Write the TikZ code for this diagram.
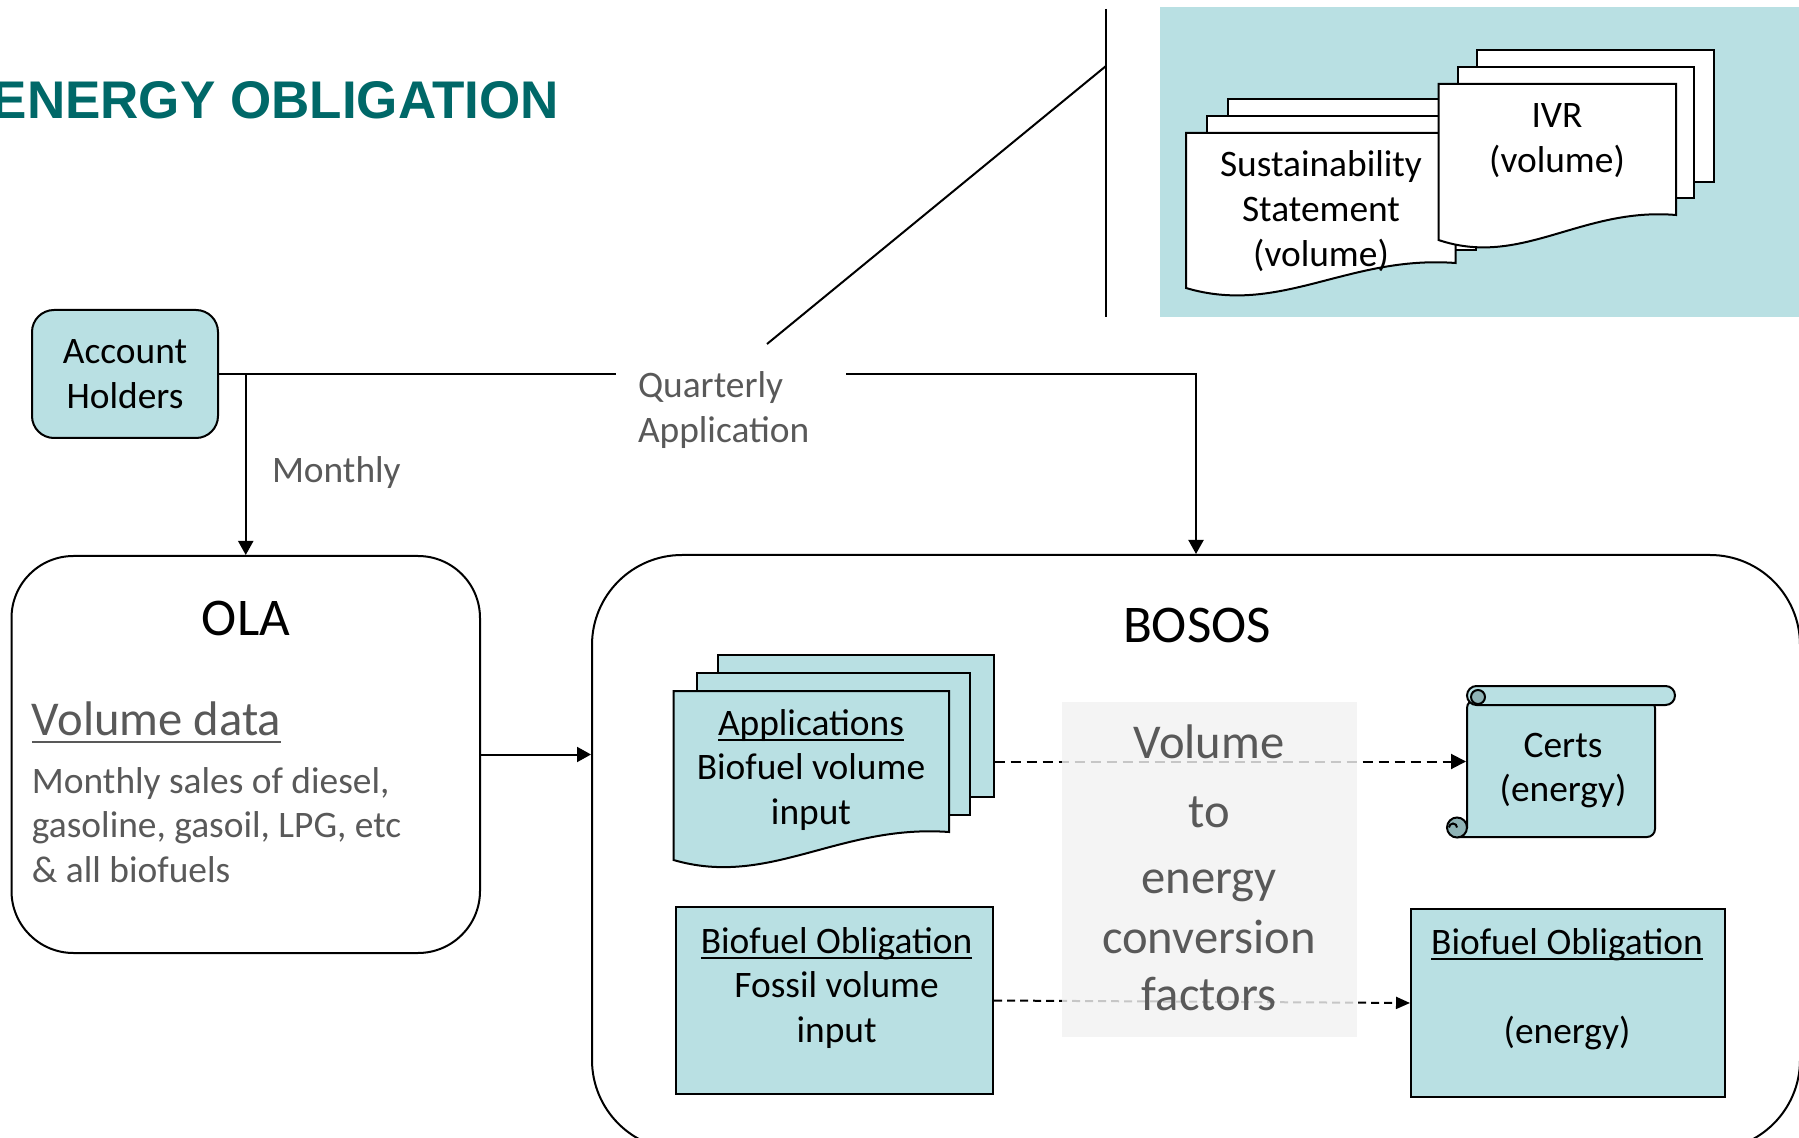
\documentclass[tikz,border=0pt]{standalone}
\usepackage{fontspec}
\setmainfont{Carlito}
\newfontfamily\titlefont{Liberation Sans}
\usetikzlibrary{arrows.meta,calc}
\definecolor{tealc}{HTML}{B9E0E3}
\definecolor{tealdark}{HTML}{8FB3B6}
\definecolor{titlec}{HTML}{006868}
\definecolor{grayt}{HTML}{595959}
\definecolor{convc}{HTML}{F2F2F2}
\newcommand\ulx[1]{\leavevmode\setbox0\hbox{#1}\rlap{\rule[-0.17em]{\wd0}{0.055em}}\box0}
\newcommand\fnorm{\fontsize{18.7}{22.3}\selectfont}
\newcommand\fhead{\fontsize{26.5}{32}\selectfont}
\newcommand\fmid{\fontsize{24.3}{29.6}\selectfont}
\newcommand\lines[2]{\begin{tabular}[t]{@{}#1@{}}#2\end{tabular}}
\begin{document}
\begin{tikzpicture}[x=0.5pt,y=-0.5pt,line width=1pt,
  arr/.style={-{Triangle[length=7pt,width=7.5pt]}},
  dasharr/.style={dash pattern=on 5pt off 3pt,-{Triangle[length=7.5pt,width=7.5pt]}},
  dasharrsmall/.style={dash pattern=on 4pt off 2.5pt,-{Triangle[length=7pt,width=6pt]}},
  tbox/.style={draw,fill=tealc,inner sep=0pt},
  txt/.style={font=\fnorm,inner sep=0pt},
  graytxt/.style={font=\fnorm,text=grayt,inner sep=0pt},
  sheet/.style={draw,fill=white}]
\useasboundingbox (0,0) rectangle (1799,1138);
\clip (0,0) rectangle (1799,1138);
\fill[white] (0,0) rectangle (1799,1138);

% title
\node[anchor=base east,text=titlec,inner sep=0pt,font={\titlefont\bfseries\fontsize{26.5}{30}\selectfont}] (title) at (560,119) {ENERGY OBLIGATION};

% top right panel
\fill[tealc] (1160,7) rectangle (1800,317);
\coordinate (vtop) at (1106,9);
\coordinate (vbot) at (1106,317);
\coordinate (dtop) at (1106,66);
\coordinate (dbot) at (767,344);
\draw (vtop) -- (vbot);
\draw (dtop) -- (dbot);

% sustainability stack
\draw[sheet] (1228,99) rectangle (1497,229);
\draw[sheet] (1207,116) rectangle (1476,250);
\draw[sheet] (1186,288) -- (1186,133) -- (1455.5,133) -- (1455.5,263) .. controls (1348,255) and (1280,316) .. (1186,288) -- cycle;
% IVR stack
\draw[sheet] (1477,50) rectangle (1714,182);
\draw[sheet] (1458,67) rectangle (1694,198);
\draw[sheet] (1438.5,240) -- (1438.5,84) -- (1676,84) -- (1676,215) .. controls (1581,207) and (1521.5,268) .. (1438.5,240) -- cycle;
\node[txt,anchor=base] (sust) at (1321,177) {\lines{c}{Sustainability\\Statement\\(volume)}};
\node[txt,anchor=base] (ivr) at (1557,128) {\lines{c}{IVR\\(volume)}};

% account holders
\node[tbox,rounded corners=11pt,minimum width=93pt,minimum height=64pt,font=\fnorm,align=center] (acc) at (125,374) {Account\\Holders};

% OLA
\node[draw,rounded corners=31pt,minimum width=234.25pt,minimum height=198.5pt,inner sep=0pt] (ola) at (245.75,754.5) {};
\node[font=\fhead,anchor=base,inner sep=0pt] (olat) at (246,636) {OLA};
\node[font=\fmid,text=grayt,anchor=base west,inner sep=0pt] (vd) at (31,735) {\ulx{Volume data}};
\node[graytxt,anchor=base west] (sales) at (31,793) {\lines{l}{Monthly sales of diesel,\\gasoline, gasoil, LPG, etc\\\& all biofuels}};

% BOSOS
\node[draw,rounded corners=45pt,minimum width=604pt,minimum height=297.5pt,inner sep=0pt] (bosos) at (1196,852.5) {};
\node[font=\fhead,anchor=base,inner sep=0pt] (bosost) at (1197,643) {BOSOS};

% labels
\node[graytxt,anchor=base west] (ql) at (637,398) {\lines{l}{Quarterly\\Application}};
\node[graytxt,anchor=base west] (ml) at (271,483) {Monthly};

% applications stack
\node[tbox,minimum width=137.8pt,minimum height=71pt] (appback) at (855.8,726) {};
\draw[fill=tealc] (696.5,673) rectangle (969.7,815);
\draw[fill=tealc] (673.5,860) -- (673.5,691) -- (949,691) -- (949,832) .. controls (838.5,824) and (769.5,888) .. (673.5,860) -- cycle;
\node[txt,anchor=base] (appt) at (811,735) {\lines{c}{\ulx{Applications}\\Biofuel volume\\input}};

% certs scroll
\draw[fill=tealc,rounded corners=4pt] (1457,837) -- (1655,837) -- (1655,700) -- (1467,700) -- (1467,828);
\draw[fill=tealc,rounded corners=4.75pt] (1467,686) rectangle (1675,705);
\draw[fill=tealdark] (1457,827.5) circle[radius=10];
\draw (1457,827.5) arc[start angle=0,end angle=-180,radius=4];
\draw[fill=tealdark] (1478,697) circle[radius=7];
\node[txt,minimum width=94pt,minimum height=75.5pt] (certs) at (1561,761.5) {};
\node[txt,anchor=base] (certst) at (1563,757) {\lines{c}{Certs\\(energy)}};

% obligation boxes
\node[tbox,minimum width=158.75pt,minimum height=93.5pt] (fossil) at (834.25,1000.5) {};
\node[txt,anchor=base] (fossilt) at (836.6,953) {\lines{c}{\ulx{Biofuel Obligation}\\Fossil volume\\input}};
\node[tbox,minimum width=157pt,minimum height=94pt] (bobox) at (1568,1003) {};
\node[txt,anchor=base] (bot) at (1567,954) {\lines{c}{\ulx{Biofuel Obligation}\\ \\(energy)}};

% connectors
\draw (acc.east) -- ([xshift=-10.5pt]ql.west |- acc.east);
\draw[arr] ([xshift=18pt]ql.east |- acc.east) -| (bosos.north);
\draw[arr] (acc.east -| ola.north) -- (ola.north);
\draw[arr] (ola.east) -- (ola.east -| bosos.west);
\draw[dasharr] (appback.east |- certs.west) -- (certs.west);
\draw[dasharrsmall] (fossil.east) -- (bobox.west);

% conversion box
\node[fill=convc,fill opacity=0.82,minimum width=147.5pt,minimum height=167.5pt,inner sep=0pt] (conv) at (1209.5,869.5) {};
\node[font=\fmid,text=grayt,anchor=base,inner sep=0pt] (convt) at (1209,758) {\lines{c}{Volume\\[4.9pt]to\\[3.4pt]energy\\[0.4pt]conversion\\[-1.1pt]factors}};
\end{tikzpicture}
\end{document}
